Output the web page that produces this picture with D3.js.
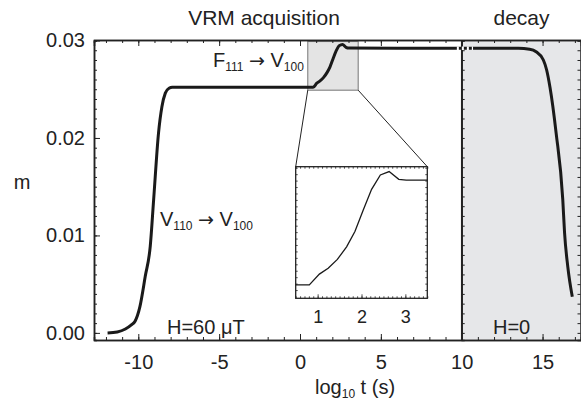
<!DOCTYPE html>
<html><head><meta charset="utf-8">
<script src="https://cdn.jsdelivr.net/npm/d3@7"></script>
<style>body{margin:0;background:#fff}svg{display:block}text{font-family:"Liberation Sans",Arial,sans-serif;fill:#222}</style>
</head><body>
<svg id="c" width="581" height="401"></svg>
<script>
// ---- data ----
const curveX = [-11.9,-11.3,-10.8,-10.45,-10.2,-9.9,-9.57,-9.26,-9.05,-8.75,-8.54,-8.33,-8.1,-7.9,0.81,1.04,1.24,1.45,1.66,1.85,2.04,2.23,2.43,2.63,2.85,3.02,6,10,13.5,14.2,14.6,15.05,15.25,15.46,15.84,16.25,16.36,16.56,16.84];
const curveM = [0.0000,0.0001,0.0004,0.0008,0.0012,0.0027,0.0058,0.0089,0.0137,0.0205,0.0232,0.0246,0.0251,0.0252,0.0252,0.02562,0.02585,0.02619,0.02668,0.02727,0.02811,0.02891,0.02947,0.02960,0.02930,0.02922,0.02920,0.02920,0.02920,0.02910,0.02885,0.0280,0.0270,0.0252,0.0205,0.0137,0.0103,0.0068,0.0037];
const insetX = [0.5,0.81,1.04,1.24,1.45,1.66,1.85,2.04,2.23,2.43,2.63,2.85,3.02,3.5];
const insetM = [0.02520,0.02520,0.02562,0.02585,0.02619,0.02668,0.02727,0.02811,0.02891,0.02947,0.02960,0.02930,0.02927,0.02927];
const xTickLabels = [-10,-5,0,5,10,15];
const yTickLabels = [0.00,0.01,0.02,0.03];
const insetTickLabels = [1,2,3];
const zoomBox = {x0:0.48, x1:3.6, m0:0.0249, m1:0.0299};
const acquisitionEnd = 10;

// ---- layout ----
const svg = d3.select("#c");
const L=94, R=581, T=40, B=340;
const x = d3.scaleLinear().domain([(L-300)/16.17,(R-300)/16.17]).range([L,R]);
const y = d3.scaleLinear().domain([-0.00073,0.03]).range([B,T+0.5]);
const ink="#222";

// shaded decay region
svg.append("rect").attr("x",x(acquisitionEnd)).attr("y",T).attr("width",R-x(acquisitionEnd)).attr("height",B-T).attr("fill","#e6e7e9");

// zoom box
svg.append("rect").attr("x",x(zoomBox.x0)).attr("y",y(zoomBox.m1)).attr("width",x(zoomBox.x1)-x(zoomBox.x0)).attr("height",y(zoomBox.m0)-y(zoomBox.m1))
  .attr("fill","#e4e4e4").attr("stroke","#8a8a8a").attr("stroke-width",1.2);

function axisStyle(g){g.select(".domain").attr("stroke",ink).attr("stroke-width",1.5);g.selectAll(".tick line").attr("stroke",ink).attr("stroke-width",1);g.selectAll("text").attr("font-size",20).attr("fill",ink);}

const xMinor = d3.range(-12,18,1);
const yMinor = d3.range(0,0.03001,0.001);
// bottom
svg.append("g").attr("transform",`translate(0,${B})`).call(d3.axisBottom(x).tickValues(xMinor).tickSize(-3).tickFormat("")).call(axisStyle);
svg.append("g").attr("transform",`translate(0,${B})`).call(d3.axisBottom(x).tickValues(xTickLabels).tickSizeInner(-6).tickSizeOuter(0).tickPadding(15).tickFormat(d3.format("d"))).call(axisStyle)
  .call(g=>g.selectAll("text").text(d=>d<0?"-"+Math.abs(d):d));
// top
svg.append("g").attr("transform",`translate(0,${T})`).call(d3.axisTop(x).tickValues(xMinor).tickSize(-3).tickFormat("")).call(axisStyle);
svg.append("g").attr("transform",`translate(0,${T})`).call(d3.axisTop(x).tickValues(xTickLabels).tickSize(-6).tickFormat("")).call(axisStyle);
// left
svg.append("g").attr("transform",`translate(${L},0)`).call(d3.axisLeft(y).tickValues(yMinor).tickSize(-3).tickFormat("")).call(axisStyle);
svg.append("g").attr("transform",`translate(${L},0)`).call(d3.axisLeft(y).tickValues(yTickLabels).tickSizeInner(-6).tickSizeOuter(0).tickPadding(9).tickFormat(d3.format(".2f"))).call(axisStyle);
// right
svg.append("g").attr("transform",`translate(${R-0.5},0)`).call(d3.axisRight(y).tickValues(yMinor).tickSize(-3).tickFormat("")).call(axisStyle);
// divider at x=10 with ticks pointing right
svg.append("g").attr("transform",`translate(${x(acquisitionEnd)},0)`).call(d3.axisRight(y).tickValues(yMinor).tickSize(3).tickFormat("")).call(axisStyle);
svg.append("line").attr("x1",x(acquisitionEnd)).attr("x2",x(acquisitionEnd)).attr("y1",T).attr("y2",B).attr("stroke",ink).attr("stroke-width",1.5);

// main curve
const pts = curveX.map((v,i)=>[v,curveM[i]]);
svg.append("path").datum(pts).attr("fill","none").attr("stroke","#1a1a1a").attr("stroke-width",3)
  .attr("d",d3.line().x(d=>x(d[0])).y(d=>y(d[1])).curve(d3.curveMonotoneX));
// break marks
svg.append("line").attr("x1",x(9.7)).attr("x2",x(10.7)).attr("y1",y(0.0292)).attr("y2",y(0.0292))
  .attr("stroke","#fff").attr("stroke-width",3.5).attr("stroke-dasharray","2,3");

// inset
const iL=295.7, iR=427.3, iT=166.7, iB=298.3;
const ix = d3.scaleLinear().domain([0.5,3.5]).range([iL,iR]);
const iy = d3.scaleLinear().domain([0.02468,0.02979]).range([iB,iT]);
svg.append("line").attr("x1",x(zoomBox.x0)).attr("y1",y(zoomBox.m0)).attr("x2",iL).attr("y2",iT).attr("stroke",ink).attr("stroke-width",1);
svg.append("line").attr("x1",x(zoomBox.x1)).attr("y1",y(zoomBox.m0)).attr("x2",iR).attr("y2",iT).attr("stroke",ink).attr("stroke-width",1);
svg.append("rect").attr("x",iL).attr("y",iT).attr("width",iR-iL).attr("height",iB-iT).attr("fill","#fff").attr("stroke",ink).attr("stroke-width",1.3);
function thin(g){g.select(".domain").remove();g.selectAll(".tick line").attr("stroke",ink).attr("stroke-width",0.8);g.selectAll("text").attr("font-size",18).attr("fill",ink);}
const ixMinor = d3.range(0.5,3.501,0.1);
const iyMinor = d3.range(0.0250,0.02979,0.00025);
svg.append("g").attr("transform",`translate(0,${iB})`).call(d3.axisBottom(ix).tickValues(ixMinor).tickSize(-2).tickFormat("")).call(thin);
svg.append("g").attr("transform",`translate(0,${iB})`).call(d3.axisBottom(ix).tickValues(insetTickLabels).tickSize(-4).tickPadding(12).tickFormat(d3.format("d"))).call(thin);
svg.append("g").attr("transform",`translate(0,${iT})`).call(d3.axisTop(ix).tickValues(ixMinor).tickSize(-2).tickFormat("")).call(thin);
svg.append("g").attr("transform",`translate(${iL},0)`).call(d3.axisLeft(iy).tickValues(iyMinor).tickSize(-2).tickFormat("")).call(thin);
svg.append("g").attr("transform",`translate(${iR},0)`).call(d3.axisRight(iy).tickValues(iyMinor).tickSize(-2).tickFormat("")).call(thin);
svg.append("path").datum(insetX.map((v,i)=>[v,insetM[i]])).attr("fill","none").attr("stroke","#1a1a1a").attr("stroke-width",1.3)
  .attr("d",d3.line().x(d=>ix(d[0])).y(d=>iy(d[1])));

// text
function label(xp,yp,parts,anchor,size){
  const t=svg.append("text").attr("x",xp).attr("y",yp).attr("font-size",size||20).attr("text-anchor",anchor||"start");
  let shift=0;
  parts.forEach(p=>{
    const s=t.append("tspan").text(p.t);
    const target=p.sub?4:0;
    if(target!==shift){s.attr("dy",target-shift);shift=target;}
    if(p.sub)s.attr("font-size",12);
    if(p.arrow)s.attr("font-family","DejaVu Sans").attr("font-size",19);
  });
  return t;
}
label(264,25,[{t:"VRM acquisition"}],"middle",21);
label(521.5,25,[{t:"decay"}],"middle",21);
label(22,189,[{t:"m"}],"middle");
label(213,67,[{t:"F"},{t:"111",sub:true},{t:" "},{t:"\u2192",arrow:true},{t:" V"},{t:"100",sub:true}]);
label(160,226,[{t:"V"},{t:"110",sub:true},{t:" "},{t:"\u2192",arrow:true},{t:" V"},{t:"100",sub:true}]);
label(167,334,[{t:"H=60 \u03BCT"}]);
label(493,334,[{t:"H=0"}]);
label(315,394,[{t:"log"},{t:"10",sub:true},{t:" t (s)"}]);
</script>
</body></html>
